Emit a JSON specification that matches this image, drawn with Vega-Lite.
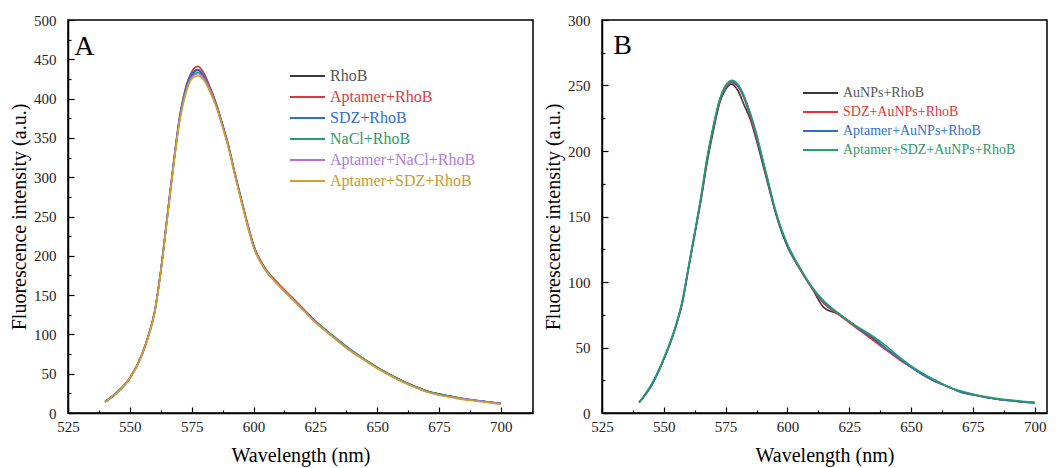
{
"$schema":"https://vega.github.io/schema/vega-lite/v6.json",
"padding":{"top":12,"left":8,"right":5,"bottom":5},
"spacing":8,
"config":{"font":"Liberation Serif","view":{"stroke":"black","strokeWidth":1.5},
"text":{"font":"Liberation Serif"},
"style":{"guide-label":{"font":"Liberation Serif"},"guide-title":{"font":"Liberation Serif"}},
"axis":{"grid":false,"domainColor":"black","domainWidth":1.5,"tickColor":"black","tickWidth":1.2,"labelFont":"Liberation Serif","labelFontSize":15,"labelColor":"#222","titleFont":"Liberation Serif","titleFontSize":20,"titleFontWeight":"normal","titleColor":"black"},
"legend":{"labelFont":"Liberation Serif","labelFontSize":16,"labelLimit":400,"symbolType":"stroke","symbolSize":1225,"symbolStrokeWidth":2,"rowPadding":1}},
"resolve":{"scale":{"color":"independent"}},
"hconcat":[
{"width":465,"height":393,
"resolve":{"axis":{"x":"independent","y":"independent"}},
"layer":[
{"data":{"values":[
{"s":"RhoB","x":540,"y":14},{"s":"RhoB","x":545,"y":27},{"s":"RhoB","x":550,"y":44},{"s":"RhoB","x":555,"y":75},{"s":"RhoB","x":557.5,"y":98},{"s":"RhoB","x":560,"y":128},{"s":"RhoB","x":562.5,"y":180},{"s":"RhoB","x":565,"y":246},{"s":"RhoB","x":567.5,"y":312},{"s":"RhoB","x":570,"y":372},{"s":"RhoB","x":572.5,"y":410},{"s":"RhoB","x":575,"y":430},{"s":"RhoB","x":577.5,"y":436},{"s":"RhoB","x":580,"y":428},{"s":"RhoB","x":582.5,"y":412},{"s":"RhoB","x":585,"y":392},{"s":"RhoB","x":587.5,"y":366},{"s":"RhoB","x":590,"y":338},{"s":"RhoB","x":592.5,"y":304},{"s":"RhoB","x":595,"y":272},{"s":"RhoB","x":597.5,"y":241},{"s":"RhoB","x":600,"y":213},{"s":"RhoB","x":605,"y":182},{"s":"RhoB","x":610,"y":164},{"s":"RhoB","x":615,"y":148},{"s":"RhoB","x":620,"y":132},{"s":"RhoB","x":625,"y":116},{"s":"RhoB","x":630,"y":103},{"s":"RhoB","x":635,"y":90},{"s":"RhoB","x":640,"y":78},{"s":"RhoB","x":645,"y":68},{"s":"RhoB","x":650,"y":58},{"s":"RhoB","x":655,"y":49},{"s":"RhoB","x":660,"y":41},{"s":"RhoB","x":665,"y":34},{"s":"RhoB","x":670,"y":28},{"s":"RhoB","x":675,"y":24},{"s":"RhoB","x":680,"y":21},{"s":"RhoB","x":685,"y":18},{"s":"RhoB","x":690,"y":16},{"s":"RhoB","x":695,"y":14},{"s":"RhoB","x":700,"y":12},
{"s":"Aptamer+RhoB","x":540,"y":14},{"s":"Aptamer+RhoB","x":545,"y":27},{"s":"Aptamer+RhoB","x":550,"y":45},{"s":"Aptamer+RhoB","x":555,"y":76},{"s":"Aptamer+RhoB","x":557.5,"y":99},{"s":"Aptamer+RhoB","x":560,"y":129},{"s":"Aptamer+RhoB","x":562.5,"y":181},{"s":"Aptamer+RhoB","x":565,"y":247},{"s":"Aptamer+RhoB","x":567.5,"y":314},{"s":"Aptamer+RhoB","x":570,"y":374},{"s":"Aptamer+RhoB","x":572.5,"y":413},{"s":"Aptamer+RhoB","x":575,"y":434},{"s":"Aptamer+RhoB","x":577.5,"y":441},{"s":"Aptamer+RhoB","x":580,"y":432},{"s":"Aptamer+RhoB","x":582.5,"y":414},{"s":"Aptamer+RhoB","x":585,"y":393},{"s":"Aptamer+RhoB","x":587.5,"y":367},{"s":"Aptamer+RhoB","x":590,"y":339},{"s":"Aptamer+RhoB","x":592.5,"y":305},{"s":"Aptamer+RhoB","x":595,"y":273},{"s":"Aptamer+RhoB","x":597.5,"y":242},{"s":"Aptamer+RhoB","x":600,"y":214},{"s":"Aptamer+RhoB","x":605,"y":183},{"s":"Aptamer+RhoB","x":610,"y":165},{"s":"Aptamer+RhoB","x":615,"y":149},{"s":"Aptamer+RhoB","x":620,"y":133},{"s":"Aptamer+RhoB","x":625,"y":117},{"s":"Aptamer+RhoB","x":630,"y":103},{"s":"Aptamer+RhoB","x":635,"y":91},{"s":"Aptamer+RhoB","x":640,"y":78},{"s":"Aptamer+RhoB","x":645,"y":68},{"s":"Aptamer+RhoB","x":650,"y":58},{"s":"Aptamer+RhoB","x":655,"y":49},{"s":"Aptamer+RhoB","x":660,"y":41},{"s":"Aptamer+RhoB","x":665,"y":34},{"s":"Aptamer+RhoB","x":670,"y":28},{"s":"Aptamer+RhoB","x":675,"y":24},{"s":"Aptamer+RhoB","x":680,"y":21},{"s":"Aptamer+RhoB","x":685,"y":18},{"s":"Aptamer+RhoB","x":690,"y":16},{"s":"Aptamer+RhoB","x":695,"y":14},{"s":"Aptamer+RhoB","x":700,"y":12},
{"s":"SDZ+RhoB","x":540,"y":15},{"s":"SDZ+RhoB","x":545,"y":27},{"s":"SDZ+RhoB","x":550,"y":44},{"s":"SDZ+RhoB","x":555,"y":75},{"s":"SDZ+RhoB","x":557.5,"y":98},{"s":"SDZ+RhoB","x":560,"y":128},{"s":"SDZ+RhoB","x":562.5,"y":181},{"s":"SDZ+RhoB","x":565,"y":247},{"s":"SDZ+RhoB","x":567.5,"y":313},{"s":"SDZ+RhoB","x":570,"y":374},{"s":"SDZ+RhoB","x":572.5,"y":412},{"s":"SDZ+RhoB","x":575,"y":432},{"s":"SDZ+RhoB","x":577.5,"y":437},{"s":"SDZ+RhoB","x":580,"y":429},{"s":"SDZ+RhoB","x":582.5,"y":412},{"s":"SDZ+RhoB","x":585,"y":392},{"s":"SDZ+RhoB","x":587.5,"y":366},{"s":"SDZ+RhoB","x":590,"y":338},{"s":"SDZ+RhoB","x":592.5,"y":304},{"s":"SDZ+RhoB","x":595,"y":272},{"s":"SDZ+RhoB","x":597.5,"y":241},{"s":"SDZ+RhoB","x":600,"y":213},{"s":"SDZ+RhoB","x":605,"y":182},{"s":"SDZ+RhoB","x":610,"y":164},{"s":"SDZ+RhoB","x":615,"y":148},{"s":"SDZ+RhoB","x":620,"y":132},{"s":"SDZ+RhoB","x":625,"y":117},{"s":"SDZ+RhoB","x":630,"y":103},{"s":"SDZ+RhoB","x":635,"y":90},{"s":"SDZ+RhoB","x":640,"y":79},{"s":"SDZ+RhoB","x":645,"y":68},{"s":"SDZ+RhoB","x":650,"y":58},{"s":"SDZ+RhoB","x":655,"y":49},{"s":"SDZ+RhoB","x":660,"y":41},{"s":"SDZ+RhoB","x":665,"y":34},{"s":"SDZ+RhoB","x":670,"y":28},{"s":"SDZ+RhoB","x":675,"y":24},{"s":"SDZ+RhoB","x":680,"y":21},{"s":"SDZ+RhoB","x":685,"y":18},{"s":"SDZ+RhoB","x":690,"y":16},{"s":"SDZ+RhoB","x":695,"y":14},{"s":"SDZ+RhoB","x":700,"y":12},
{"s":"NaCl+RhoB","x":540,"y":14},{"s":"NaCl+RhoB","x":545,"y":26},{"s":"NaCl+RhoB","x":550,"y":44},{"s":"NaCl+RhoB","x":555,"y":75},{"s":"NaCl+RhoB","x":557.5,"y":98},{"s":"NaCl+RhoB","x":560,"y":128},{"s":"NaCl+RhoB","x":562.5,"y":180},{"s":"NaCl+RhoB","x":565,"y":245},{"s":"NaCl+RhoB","x":567.5,"y":311},{"s":"NaCl+RhoB","x":570,"y":371},{"s":"NaCl+RhoB","x":572.5,"y":408},{"s":"NaCl+RhoB","x":575,"y":428},{"s":"NaCl+RhoB","x":577.5,"y":433},{"s":"NaCl+RhoB","x":580,"y":426},{"s":"NaCl+RhoB","x":582.5,"y":411},{"s":"NaCl+RhoB","x":585,"y":391},{"s":"NaCl+RhoB","x":587.5,"y":365},{"s":"NaCl+RhoB","x":590,"y":337},{"s":"NaCl+RhoB","x":592.5,"y":303},{"s":"NaCl+RhoB","x":595,"y":272},{"s":"NaCl+RhoB","x":597.5,"y":240},{"s":"NaCl+RhoB","x":600,"y":213},{"s":"NaCl+RhoB","x":605,"y":182},{"s":"NaCl+RhoB","x":610,"y":164},{"s":"NaCl+RhoB","x":615,"y":148},{"s":"NaCl+RhoB","x":620,"y":133},{"s":"NaCl+RhoB","x":625,"y":117},{"s":"NaCl+RhoB","x":630,"y":104},{"s":"NaCl+RhoB","x":635,"y":91},{"s":"NaCl+RhoB","x":640,"y":79},{"s":"NaCl+RhoB","x":645,"y":68},{"s":"NaCl+RhoB","x":650,"y":58},{"s":"NaCl+RhoB","x":655,"y":49},{"s":"NaCl+RhoB","x":660,"y":41},{"s":"NaCl+RhoB","x":665,"y":34},{"s":"NaCl+RhoB","x":670,"y":28},{"s":"NaCl+RhoB","x":675,"y":24},{"s":"NaCl+RhoB","x":680,"y":21},{"s":"NaCl+RhoB","x":685,"y":18},{"s":"NaCl+RhoB","x":690,"y":16},{"s":"NaCl+RhoB","x":695,"y":14},{"s":"NaCl+RhoB","x":700,"y":12},
{"s":"Aptamer+NaCl+RhoB","x":540,"y":14},{"s":"Aptamer+NaCl+RhoB","x":545,"y":27},{"s":"Aptamer+NaCl+RhoB","x":550,"y":44},{"s":"Aptamer+NaCl+RhoB","x":555,"y":74},{"s":"Aptamer+NaCl+RhoB","x":557.5,"y":97},{"s":"Aptamer+NaCl+RhoB","x":560,"y":127},{"s":"Aptamer+NaCl+RhoB","x":562.5,"y":179},{"s":"Aptamer+NaCl+RhoB","x":565,"y":245},{"s":"Aptamer+NaCl+RhoB","x":567.5,"y":311},{"s":"Aptamer+NaCl+RhoB","x":570,"y":370},{"s":"Aptamer+NaCl+RhoB","x":572.5,"y":407},{"s":"Aptamer+NaCl+RhoB","x":575,"y":427},{"s":"Aptamer+NaCl+RhoB","x":577.5,"y":432},{"s":"Aptamer+NaCl+RhoB","x":580,"y":425},{"s":"Aptamer+NaCl+RhoB","x":582.5,"y":410},{"s":"Aptamer+NaCl+RhoB","x":585,"y":390},{"s":"Aptamer+NaCl+RhoB","x":587.5,"y":364},{"s":"Aptamer+NaCl+RhoB","x":590,"y":337},{"s":"Aptamer+NaCl+RhoB","x":592.5,"y":303},{"s":"Aptamer+NaCl+RhoB","x":595,"y":271},{"s":"Aptamer+NaCl+RhoB","x":597.5,"y":240},{"s":"Aptamer+NaCl+RhoB","x":600,"y":212},{"s":"Aptamer+NaCl+RhoB","x":605,"y":181},{"s":"Aptamer+NaCl+RhoB","x":610,"y":163},{"s":"Aptamer+NaCl+RhoB","x":615,"y":147},{"s":"Aptamer+NaCl+RhoB","x":620,"y":132},{"s":"Aptamer+NaCl+RhoB","x":625,"y":116},{"s":"Aptamer+NaCl+RhoB","x":630,"y":103},{"s":"Aptamer+NaCl+RhoB","x":635,"y":90},{"s":"Aptamer+NaCl+RhoB","x":640,"y":78},{"s":"Aptamer+NaCl+RhoB","x":645,"y":67},{"s":"Aptamer+NaCl+RhoB","x":650,"y":57},{"s":"Aptamer+NaCl+RhoB","x":655,"y":48},{"s":"Aptamer+NaCl+RhoB","x":660,"y":40},{"s":"Aptamer+NaCl+RhoB","x":665,"y":33},{"s":"Aptamer+NaCl+RhoB","x":670,"y":27},{"s":"Aptamer+NaCl+RhoB","x":675,"y":23},{"s":"Aptamer+NaCl+RhoB","x":680,"y":20},{"s":"Aptamer+NaCl+RhoB","x":685,"y":18},{"s":"Aptamer+NaCl+RhoB","x":690,"y":16},{"s":"Aptamer+NaCl+RhoB","x":695,"y":14},{"s":"Aptamer+NaCl+RhoB","x":700,"y":12},
{"s":"Aptamer+SDZ+RhoB","x":540,"y":14},{"s":"Aptamer+SDZ+RhoB","x":545,"y":27},{"s":"Aptamer+SDZ+RhoB","x":550,"y":44},{"s":"Aptamer+SDZ+RhoB","x":555,"y":75},{"s":"Aptamer+SDZ+RhoB","x":557.5,"y":98},{"s":"Aptamer+SDZ+RhoB","x":560,"y":127},{"s":"Aptamer+SDZ+RhoB","x":562.5,"y":179},{"s":"Aptamer+SDZ+RhoB","x":565,"y":244},{"s":"Aptamer+SDZ+RhoB","x":567.5,"y":309},{"s":"Aptamer+SDZ+RhoB","x":570,"y":368},{"s":"Aptamer+SDZ+RhoB","x":572.5,"y":405},{"s":"Aptamer+SDZ+RhoB","x":575,"y":425},{"s":"Aptamer+SDZ+RhoB","x":577.5,"y":429},{"s":"Aptamer+SDZ+RhoB","x":580,"y":423},{"s":"Aptamer+SDZ+RhoB","x":582.5,"y":408},{"s":"Aptamer+SDZ+RhoB","x":585,"y":389},{"s":"Aptamer+SDZ+RhoB","x":587.5,"y":364},{"s":"Aptamer+SDZ+RhoB","x":590,"y":336},{"s":"Aptamer+SDZ+RhoB","x":592.5,"y":302},{"s":"Aptamer+SDZ+RhoB","x":595,"y":270},{"s":"Aptamer+SDZ+RhoB","x":597.5,"y":239},{"s":"Aptamer+SDZ+RhoB","x":600,"y":211},{"s":"Aptamer+SDZ+RhoB","x":605,"y":181},{"s":"Aptamer+SDZ+RhoB","x":610,"y":163},{"s":"Aptamer+SDZ+RhoB","x":615,"y":147},{"s":"Aptamer+SDZ+RhoB","x":620,"y":131},{"s":"Aptamer+SDZ+RhoB","x":625,"y":115},{"s":"Aptamer+SDZ+RhoB","x":630,"y":102},{"s":"Aptamer+SDZ+RhoB","x":635,"y":89},{"s":"Aptamer+SDZ+RhoB","x":640,"y":77},{"s":"Aptamer+SDZ+RhoB","x":645,"y":67},{"s":"Aptamer+SDZ+RhoB","x":650,"y":57},{"s":"Aptamer+SDZ+RhoB","x":655,"y":48},{"s":"Aptamer+SDZ+RhoB","x":660,"y":40},{"s":"Aptamer+SDZ+RhoB","x":665,"y":33},{"s":"Aptamer+SDZ+RhoB","x":670,"y":27},{"s":"Aptamer+SDZ+RhoB","x":675,"y":23},{"s":"Aptamer+SDZ+RhoB","x":680,"y":20},{"s":"Aptamer+SDZ+RhoB","x":685,"y":17},{"s":"Aptamer+SDZ+RhoB","x":690,"y":15},{"s":"Aptamer+SDZ+RhoB","x":695,"y":13},{"s":"Aptamer+SDZ+RhoB","x":700,"y":11}
]},
"mark":{"type":"line","strokeWidth":1.6,"interpolate":"monotone"},
"encoding":{
"x":{"field":"x","type":"quantitative","scale":{"domain":[525,713],"nice":false,"zero":false},
 "axis":{"title":"Wavelength (nm)","values":[525,550,575,600,625,650,675,700],"tickSize":-6,"labelPadding":12,"titlePadding":11,"labelFlush":false,"labelFont":"Liberation Serif","titleFont":"Liberation Serif"}},
"y":{"field":"y","type":"quantitative","scale":{"domain":[0,500],"nice":false},
 "axis":{"title":"Fluorescence intensity (a.u.)","values":[0,50,100,150,200,250,300,350,400,450,500],"tickSize":-6,"labelPadding":18,"titlePadding":4,"labelFont":"Liberation Serif","titleFont":"Liberation Serif"}},
"color":{"field":"s","type":"nominal","scale":{"domain":["RhoB","Aptamer+RhoB","SDZ+RhoB","NaCl+RhoB","Aptamer+NaCl+RhoB","Aptamer+SDZ+RhoB"],"range":["#3a3a3a","#e8323c","#2a6fd6","#21a067","#b26de0","#d4a026"]},
 "legend":{"orient":"none","legendX":221,"legendY":46,"title":null,"labelFont":"Liberation Serif","labelFontSize":16,"labelLimit":400,"clipHeight":20,"rowPadding":1,
  "encode":{"labels":{"update":{"fill":{"signal":"{'RhoB':'#555555','Aptamer+RhoB':'#e0393e','SDZ+RhoB':'#2f6fd0','NaCl+RhoB':'#2f9a66','Aptamer+NaCl+RhoB':'#b27be0','Aptamer+SDZ+RhoB':'#c99a2a'}[datum.value]"}}}}}}
}},
{"data":{"values":[{"label":"A"}]},
"mark":{"type":"text","fontSize":28,"align":"left","baseline":"top","font":"Liberation Serif","color":"black"},
"encoding":{"x":{"datum":527.5,"axis":{"orient":"bottom","values":[537.5,562.5,587.5,612.5,637.5,662.5,687.5,712.5],"labels":false,"domain":false,"title":null,"tickSize":-3}},
"y":{"datum":484,"axis":{"orient":"left","values":[25,75,125,175,225,275,325,375,425,475],"labels":false,"domain":false,"title":null,"tickSize":-3}},"text":{"field":"label"}}}
]},
{"width":445,"height":393,
"resolve":{"axis":{"x":"independent","y":"independent"}},
"layer":[
{"data":{"values":[
{"s":"AuNPs+RhoB","x":540,"y":8},{"s":"AuNPs+RhoB","x":545,"y":21},{"s":"AuNPs+RhoB","x":550,"y":41},{"s":"AuNPs+RhoB","x":555,"y":67},{"s":"AuNPs+RhoB","x":557.5,"y":84},{"s":"AuNPs+RhoB","x":560,"y":110},{"s":"AuNPs+RhoB","x":562.5,"y":136},{"s":"AuNPs+RhoB","x":565,"y":162},{"s":"AuNPs+RhoB","x":567.5,"y":191},{"s":"AuNPs+RhoB","x":570,"y":215},{"s":"AuNPs+RhoB","x":572.5,"y":236},{"s":"AuNPs+RhoB","x":575,"y":247},{"s":"AuNPs+RhoB","x":577.5,"y":251},{"s":"AuNPs+RhoB","x":580,"y":246},{"s":"AuNPs+RhoB","x":582.5,"y":235},{"s":"AuNPs+RhoB","x":585,"y":224},{"s":"AuNPs+RhoB","x":587.5,"y":208},{"s":"AuNPs+RhoB","x":590,"y":190},{"s":"AuNPs+RhoB","x":592.5,"y":172},{"s":"AuNPs+RhoB","x":595,"y":154},{"s":"AuNPs+RhoB","x":597.5,"y":139},{"s":"AuNPs+RhoB","x":600,"y":127},{"s":"AuNPs+RhoB","x":605,"y":110},{"s":"AuNPs+RhoB","x":610,"y":95},{"s":"AuNPs+RhoB","x":615,"y":80},{"s":"AuNPs+RhoB","x":620,"y":76},{"s":"AuNPs+RhoB","x":625,"y":70},{"s":"AuNPs+RhoB","x":630,"y":63},{"s":"AuNPs+RhoB","x":635,"y":56},{"s":"AuNPs+RhoB","x":640,"y":49},{"s":"AuNPs+RhoB","x":645,"y":42},{"s":"AuNPs+RhoB","x":650,"y":35},{"s":"AuNPs+RhoB","x":655,"y":29},{"s":"AuNPs+RhoB","x":660,"y":24},{"s":"AuNPs+RhoB","x":665,"y":20},{"s":"AuNPs+RhoB","x":670,"y":16},{"s":"AuNPs+RhoB","x":675,"y":14},{"s":"AuNPs+RhoB","x":680,"y":12},{"s":"AuNPs+RhoB","x":685,"y":10.5},{"s":"AuNPs+RhoB","x":690,"y":9.5},{"s":"AuNPs+RhoB","x":695,"y":8.5},{"s":"AuNPs+RhoB","x":700,"y":8},
{"s":"SDZ+AuNPs+RhoB","x":540,"y":8},{"s":"SDZ+AuNPs+RhoB","x":545,"y":21},{"s":"SDZ+AuNPs+RhoB","x":550,"y":41},{"s":"SDZ+AuNPs+RhoB","x":555,"y":67},{"s":"SDZ+AuNPs+RhoB","x":557.5,"y":85},{"s":"SDZ+AuNPs+RhoB","x":560,"y":111},{"s":"SDZ+AuNPs+RhoB","x":562.5,"y":137},{"s":"SDZ+AuNPs+RhoB","x":565,"y":163},{"s":"SDZ+AuNPs+RhoB","x":567.5,"y":193},{"s":"SDZ+AuNPs+RhoB","x":570,"y":217},{"s":"SDZ+AuNPs+RhoB","x":572.5,"y":237},{"s":"SDZ+AuNPs+RhoB","x":575,"y":248},{"s":"SDZ+AuNPs+RhoB","x":577.5,"y":252},{"s":"SDZ+AuNPs+RhoB","x":580,"y":249},{"s":"SDZ+AuNPs+RhoB","x":582.5,"y":240},{"s":"SDZ+AuNPs+RhoB","x":585,"y":226},{"s":"SDZ+AuNPs+RhoB","x":587.5,"y":210},{"s":"SDZ+AuNPs+RhoB","x":590,"y":192},{"s":"SDZ+AuNPs+RhoB","x":592.5,"y":173},{"s":"SDZ+AuNPs+RhoB","x":595,"y":155},{"s":"SDZ+AuNPs+RhoB","x":597.5,"y":140},{"s":"SDZ+AuNPs+RhoB","x":600,"y":128},{"s":"SDZ+AuNPs+RhoB","x":605,"y":110},{"s":"SDZ+AuNPs+RhoB","x":610,"y":95},{"s":"SDZ+AuNPs+RhoB","x":615,"y":83},{"s":"SDZ+AuNPs+RhoB","x":620,"y":76},{"s":"SDZ+AuNPs+RhoB","x":625,"y":69},{"s":"SDZ+AuNPs+RhoB","x":630,"y":62},{"s":"SDZ+AuNPs+RhoB","x":635,"y":55},{"s":"SDZ+AuNPs+RhoB","x":640,"y":48},{"s":"SDZ+AuNPs+RhoB","x":645,"y":41},{"s":"SDZ+AuNPs+RhoB","x":650,"y":35},{"s":"SDZ+AuNPs+RhoB","x":655,"y":29},{"s":"SDZ+AuNPs+RhoB","x":660,"y":24},{"s":"SDZ+AuNPs+RhoB","x":665,"y":20},{"s":"SDZ+AuNPs+RhoB","x":670,"y":16},{"s":"SDZ+AuNPs+RhoB","x":675,"y":14},{"s":"SDZ+AuNPs+RhoB","x":680,"y":12},{"s":"SDZ+AuNPs+RhoB","x":685,"y":10.5},{"s":"SDZ+AuNPs+RhoB","x":690,"y":9.5},{"s":"SDZ+AuNPs+RhoB","x":695,"y":8.5},{"s":"SDZ+AuNPs+RhoB","x":700,"y":8},
{"s":"Aptamer+AuNPs+RhoB","x":540,"y":8},{"s":"Aptamer+AuNPs+RhoB","x":545,"y":21},{"s":"Aptamer+AuNPs+RhoB","x":550,"y":41},{"s":"Aptamer+AuNPs+RhoB","x":555,"y":67},{"s":"Aptamer+AuNPs+RhoB","x":557.5,"y":85},{"s":"Aptamer+AuNPs+RhoB","x":560,"y":111},{"s":"Aptamer+AuNPs+RhoB","x":562.5,"y":137},{"s":"Aptamer+AuNPs+RhoB","x":565,"y":164},{"s":"Aptamer+AuNPs+RhoB","x":567.5,"y":194},{"s":"Aptamer+AuNPs+RhoB","x":570,"y":218},{"s":"Aptamer+AuNPs+RhoB","x":572.5,"y":238},{"s":"Aptamer+AuNPs+RhoB","x":575,"y":249},{"s":"Aptamer+AuNPs+RhoB","x":577.5,"y":253},{"s":"Aptamer+AuNPs+RhoB","x":580,"y":250},{"s":"Aptamer+AuNPs+RhoB","x":582.5,"y":241},{"s":"Aptamer+AuNPs+RhoB","x":585,"y":228},{"s":"Aptamer+AuNPs+RhoB","x":587.5,"y":212},{"s":"Aptamer+AuNPs+RhoB","x":590,"y":193},{"s":"Aptamer+AuNPs+RhoB","x":592.5,"y":174},{"s":"Aptamer+AuNPs+RhoB","x":595,"y":155},{"s":"Aptamer+AuNPs+RhoB","x":597.5,"y":140},{"s":"Aptamer+AuNPs+RhoB","x":600,"y":128},{"s":"Aptamer+AuNPs+RhoB","x":605,"y":111},{"s":"Aptamer+AuNPs+RhoB","x":610,"y":96},{"s":"Aptamer+AuNPs+RhoB","x":615,"y":84},{"s":"Aptamer+AuNPs+RhoB","x":620,"y":77},{"s":"Aptamer+AuNPs+RhoB","x":625,"y":70},{"s":"Aptamer+AuNPs+RhoB","x":630,"y":63},{"s":"Aptamer+AuNPs+RhoB","x":635,"y":57},{"s":"Aptamer+AuNPs+RhoB","x":640,"y":49},{"s":"Aptamer+AuNPs+RhoB","x":645,"y":42},{"s":"Aptamer+AuNPs+RhoB","x":650,"y":35},{"s":"Aptamer+AuNPs+RhoB","x":655,"y":29},{"s":"Aptamer+AuNPs+RhoB","x":660,"y":24},{"s":"Aptamer+AuNPs+RhoB","x":665,"y":20},{"s":"Aptamer+AuNPs+RhoB","x":670,"y":16},{"s":"Aptamer+AuNPs+RhoB","x":675,"y":14},{"s":"Aptamer+AuNPs+RhoB","x":680,"y":12},{"s":"Aptamer+AuNPs+RhoB","x":685,"y":10.5},{"s":"Aptamer+AuNPs+RhoB","x":690,"y":9.5},{"s":"Aptamer+AuNPs+RhoB","x":695,"y":8.5},{"s":"Aptamer+AuNPs+RhoB","x":700,"y":7.5},
{"s":"Aptamer+SDZ+AuNPs+RhoB","x":540,"y":8},{"s":"Aptamer+SDZ+AuNPs+RhoB","x":545,"y":22},{"s":"Aptamer+SDZ+AuNPs+RhoB","x":550,"y":42},{"s":"Aptamer+SDZ+AuNPs+RhoB","x":555,"y":68},{"s":"Aptamer+SDZ+AuNPs+RhoB","x":557.5,"y":86},{"s":"Aptamer+SDZ+AuNPs+RhoB","x":560,"y":112},{"s":"Aptamer+SDZ+AuNPs+RhoB","x":562.5,"y":138},{"s":"Aptamer+SDZ+AuNPs+RhoB","x":565,"y":165},{"s":"Aptamer+SDZ+AuNPs+RhoB","x":567.5,"y":195},{"s":"Aptamer+SDZ+AuNPs+RhoB","x":570,"y":219},{"s":"Aptamer+SDZ+AuNPs+RhoB","x":572.5,"y":239},{"s":"Aptamer+SDZ+AuNPs+RhoB","x":575,"y":250},{"s":"Aptamer+SDZ+AuNPs+RhoB","x":577.5,"y":254},{"s":"Aptamer+SDZ+AuNPs+RhoB","x":580,"y":251},{"s":"Aptamer+SDZ+AuNPs+RhoB","x":582.5,"y":242},{"s":"Aptamer+SDZ+AuNPs+RhoB","x":585,"y":229},{"s":"Aptamer+SDZ+AuNPs+RhoB","x":587.5,"y":213},{"s":"Aptamer+SDZ+AuNPs+RhoB","x":590,"y":194},{"s":"Aptamer+SDZ+AuNPs+RhoB","x":592.5,"y":175},{"s":"Aptamer+SDZ+AuNPs+RhoB","x":595,"y":156},{"s":"Aptamer+SDZ+AuNPs+RhoB","x":597.5,"y":141},{"s":"Aptamer+SDZ+AuNPs+RhoB","x":600,"y":129},{"s":"Aptamer+SDZ+AuNPs+RhoB","x":605,"y":111},{"s":"Aptamer+SDZ+AuNPs+RhoB","x":610,"y":96},{"s":"Aptamer+SDZ+AuNPs+RhoB","x":615,"y":85},{"s":"Aptamer+SDZ+AuNPs+RhoB","x":620,"y":77},{"s":"Aptamer+SDZ+AuNPs+RhoB","x":625,"y":70},{"s":"Aptamer+SDZ+AuNPs+RhoB","x":630,"y":64},{"s":"Aptamer+SDZ+AuNPs+RhoB","x":635,"y":58},{"s":"Aptamer+SDZ+AuNPs+RhoB","x":640,"y":51},{"s":"Aptamer+SDZ+AuNPs+RhoB","x":645,"y":43},{"s":"Aptamer+SDZ+AuNPs+RhoB","x":650,"y":36},{"s":"Aptamer+SDZ+AuNPs+RhoB","x":655,"y":30},{"s":"Aptamer+SDZ+AuNPs+RhoB","x":660,"y":25},{"s":"Aptamer+SDZ+AuNPs+RhoB","x":665,"y":20},{"s":"Aptamer+SDZ+AuNPs+RhoB","x":670,"y":17},{"s":"Aptamer+SDZ+AuNPs+RhoB","x":675,"y":14.5},{"s":"Aptamer+SDZ+AuNPs+RhoB","x":680,"y":12.5},{"s":"Aptamer+SDZ+AuNPs+RhoB","x":685,"y":11},{"s":"Aptamer+SDZ+AuNPs+RhoB","x":690,"y":10},{"s":"Aptamer+SDZ+AuNPs+RhoB","x":695,"y":9},{"s":"Aptamer+SDZ+AuNPs+RhoB","x":700,"y":8}
]},
"mark":{"type":"line","strokeWidth":1.6,"interpolate":"monotone"},
"encoding":{
"x":{"field":"x","type":"quantitative","scale":{"domain":[525,705],"nice":false,"zero":false},
 "axis":{"title":"Wavelength (nm)","values":[525,550,575,600,625,650,675,700],"tickSize":-6,"labelPadding":12,"titlePadding":11,"labelFlush":false,"labelFont":"Liberation Serif","titleFont":"Liberation Serif"}},
"y":{"field":"y","type":"quantitative","scale":{"domain":[0,300],"nice":false},
 "axis":{"title":"Fluorescence intensity (a.u.)","values":[0,50,100,150,200,250,300],"tickSize":-6,"labelPadding":18,"titlePadding":4,"labelFont":"Liberation Serif","titleFont":"Liberation Serif"}},
"color":{"field":"s","type":"nominal","scale":{"domain":["AuNPs+RhoB","SDZ+AuNPs+RhoB","Aptamer+AuNPs+RhoB","Aptamer+SDZ+AuNPs+RhoB"],"range":["#3a3a3a","#e8323c","#2a6fd6","#21a067"]},
 "legend":{"orient":"none","legendX":200,"legendY":64,"title":null,"labelFont":"Liberation Serif","labelFontSize":14,"labelLimit":400,"clipHeight":18,"rowPadding":1,
  "encode":{"labels":{"update":{"fill":{"signal":"{'AuNPs+RhoB':'#555555','SDZ+AuNPs+RhoB':'#e0393e','Aptamer+AuNPs+RhoB':'#2f6fd0','Aptamer+SDZ+AuNPs+RhoB':'#2f9a66'}[datum.value]"}}}}}}
}},
{"data":{"values":[{"label":"B"}]},
"mark":{"type":"text","fontSize":28,"align":"left","baseline":"top","font":"Liberation Serif","color":"black"},
"encoding":{"x":{"datum":529.5,"axis":{"orient":"bottom","values":[537.5,562.5,587.5,612.5,637.5,662.5,687.5],"labels":false,"domain":false,"title":null,"tickSize":-3}},
"y":{"datum":291,"axis":{"orient":"left","values":[25,75,125,175,225,275],"labels":false,"domain":false,"title":null,"tickSize":-3}},"text":{"field":"label"}}}
]}
]
}
